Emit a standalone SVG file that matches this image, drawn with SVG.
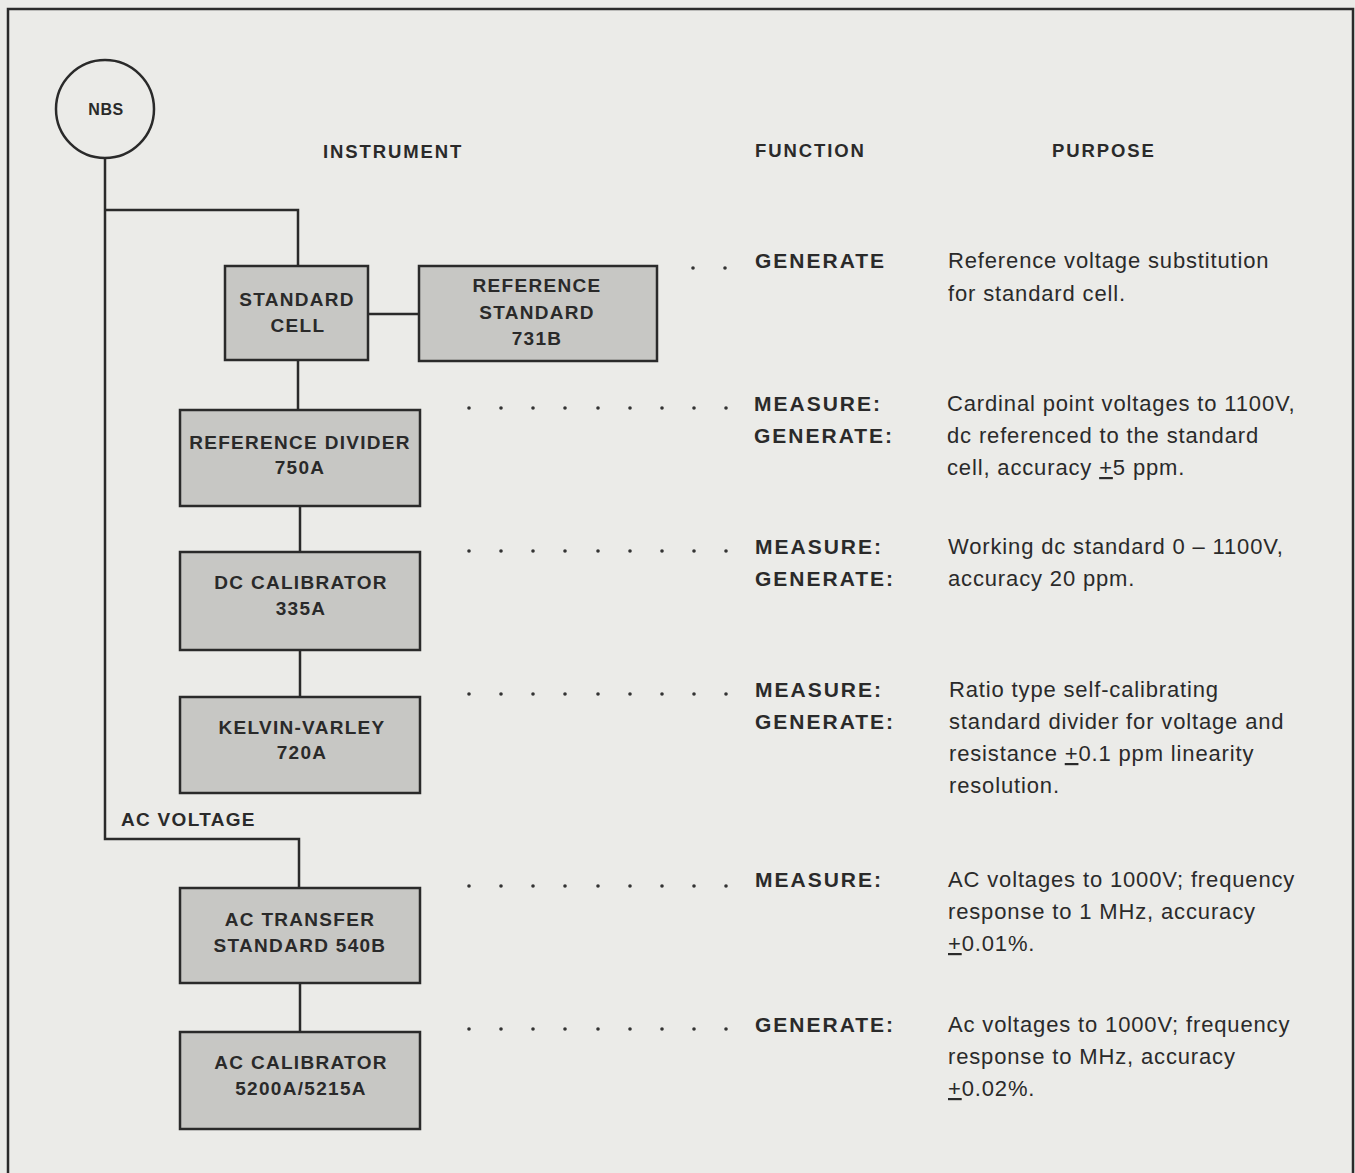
<svg xmlns="http://www.w3.org/2000/svg" width="1355" height="1173" viewBox="0 0 1355 1173">
<defs>
<style>
.bg{fill:#ebebe8}
.frame{fill:none;stroke:#2a2a2a;stroke-width:2.5}
.box{fill:#c7c7c4;stroke:#2a2a2a;stroke-width:2.5}
.ln{fill:none;stroke:#2a2a2a;stroke-width:2.5}
.bt{font-family:"Liberation Sans",Arial,sans-serif;font-weight:bold;font-size:19px;letter-spacing:1.3px;fill:#2a2a2a;text-anchor:middle}
.hd{font-family:"Liberation Sans",Arial,sans-serif;font-weight:bold;font-size:18.5px;letter-spacing:1.9px;fill:#2a2a2a}
.fn{font-family:"Liberation Sans",Arial,sans-serif;font-weight:bold;font-size:21px;letter-spacing:2px;fill:#2a2a2a}
.pp{font-family:"Liberation Sans",Arial,sans-serif;font-size:22px;letter-spacing:0.85px;fill:#2a2a2a}
.dot{fill:#333}
</style>
</defs>
<rect class="bg" x="0" y="0" width="1355" height="1173"/>
<path class="frame" d="M8,1180 V9 H1353 V1180"/>

<g id="connectors">
<path class="ln" d="M105,158 V839 H299 V888"/>
<path class="ln" d="M105,210 H298 V266"/>
<path class="ln" d="M368,314 H419"/>
<path class="ln" d="M298,360 V410"/>
<path class="ln" d="M300,506 V552"/>
<path class="ln" d="M300,650 V697"/>
<path class="ln" d="M300,983 V1032"/>
</g>

<g id="nbs">
<circle cx="105" cy="109" r="49" fill="none" stroke="#2a2a2a" stroke-width="2.5"/>
<text class="bt" x="106" y="115" style="font-size:16px;letter-spacing:0.5px">NBS</text>
</g>

<g id="headers">
<text class="hd" x="323" y="158">INSTRUMENT</text>
<text class="hd" x="755" y="157">FUNCTION</text>
<text class="hd" x="1052" y="157">PURPOSE</text>
</g>

<g id="standard-cell">
<rect class="box" x="225" y="266" width="143" height="94"/>
<text class="bt" x="297" y="306">STANDARD</text>
<text class="bt" x="298" y="332">CELL</text>
</g>

<g id="reference-standard">
<rect class="box" x="419" y="266" width="238" height="95"/>
<text class="bt" x="537" y="292">REFERENCE</text>
<text class="bt" x="537" y="319">STANDARD</text>
<text class="bt" x="537" y="345">731B</text>
</g>

<g id="reference-divider">
<rect class="box" x="180" y="410" width="240" height="96"/>
<text class="bt" x="300" y="449">REFERENCE DIVIDER</text>
<text class="bt" x="300" y="474">750A</text>
</g>

<g id="dc-calibrator">
<rect class="box" x="180" y="552" width="240" height="98"/>
<text class="bt" x="301" y="589">DC CALIBRATOR</text>
<text class="bt" x="301" y="615">335A</text>
</g>

<g id="kelvin-varley">
<rect class="box" x="180" y="697" width="240" height="96"/>
<text class="bt" x="302" y="734">KELVIN-VARLEY</text>
<text class="bt" x="302" y="759">720A</text>
</g>

<g id="ac-voltage-label">
<text class="bt" x="121" y="826" style="text-anchor:start;letter-spacing:1.3px">AC VOLTAGE</text>
</g>

<g id="ac-transfer">
<rect class="box" x="180" y="888" width="240" height="95"/>
<text class="bt" x="300" y="926">AC TRANSFER</text>
<text class="bt" x="300" y="952">STANDARD 540B</text>
</g>

<g id="ac-calibrator">
<rect class="box" x="180" y="1032" width="240" height="97"/>
<text class="bt" x="301" y="1069">AC CALIBRATOR</text>
<text class="bt" x="301" y="1095">5200A/5215A</text>
</g>

<g id="leaders">
<circle class="dot" cx="693" cy="268" r="1.8"/><circle class="dot" cx="725" cy="268" r="1.8"/>
<g id="dots2">
<circle class="dot" cx="469" cy="408" r="1.8"/><circle class="dot" cx="501" cy="408" r="1.8"/><circle class="dot" cx="533" cy="408" r="1.8"/><circle class="dot" cx="565" cy="408" r="1.8"/><circle class="dot" cx="598" cy="408" r="1.8"/><circle class="dot" cx="630" cy="408" r="1.8"/><circle class="dot" cx="662" cy="408" r="1.8"/><circle class="dot" cx="694" cy="408" r="1.8"/><circle class="dot" cx="726" cy="408" r="1.8"/>
</g>
<use href="#dots2" y="143"/>
<use href="#dots2" y="286"/>
<use href="#dots2" y="478"/>
<use href="#dots2" y="621"/>
</g>

<g id="functions">
<text class="fn" x="755" y="268">GENERATE</text>
<text class="fn" x="754" y="411">MEASURE:</text>
<text class="fn" x="754" y="443">GENERATE:</text>
<text class="fn" x="755" y="554">MEASURE:</text>
<text class="fn" x="755" y="586">GENERATE:</text>
<text class="fn" x="755" y="697">MEASURE:</text>
<text class="fn" x="755" y="729">GENERATE:</text>
<text class="fn" x="755" y="887">MEASURE:</text>
<text class="fn" x="755" y="1032">GENERATE:</text>
</g>

<g id="purposes">
<text class="pp" x="948" y="268">Reference voltage substitution</text>
<text class="pp" x="948" y="301">for standard cell.</text>
<text class="pp" x="947" y="411">Cardinal point voltages to 1100V,</text>
<text class="pp" x="947" y="443">dc referenced to the standard</text>
<text class="pp" x="947" y="475">cell, accuracy <tspan text-decoration="underline">+</tspan>5 ppm.</text>
<text class="pp" x="948" y="554">Working dc standard 0 – 1100V,</text>
<text class="pp" x="948" y="586">accuracy 20 ppm.</text>
<text class="pp" x="949" y="697">Ratio type self-calibrating</text>
<text class="pp" x="949" y="729">standard divider for voltage and</text>
<text class="pp" x="949" y="761">resistance <tspan text-decoration="underline">+</tspan>0.1 ppm linearity</text>
<text class="pp" x="949" y="793">resolution.</text>
<text class="pp" x="948" y="887">AC voltages to 1000V; frequency</text>
<text class="pp" x="948" y="919">response to 1 MHz, accuracy</text>
<text class="pp" x="948" y="951"><tspan text-decoration="underline">+</tspan>0.01%.</text>
<text class="pp" x="948" y="1032">Ac voltages to 1000V; frequency</text>
<text class="pp" x="948" y="1064">response to MHz, accuracy</text>
<text class="pp" x="948" y="1096"><tspan text-decoration="underline">+</tspan>0.02%.</text>
</g>
</svg>
